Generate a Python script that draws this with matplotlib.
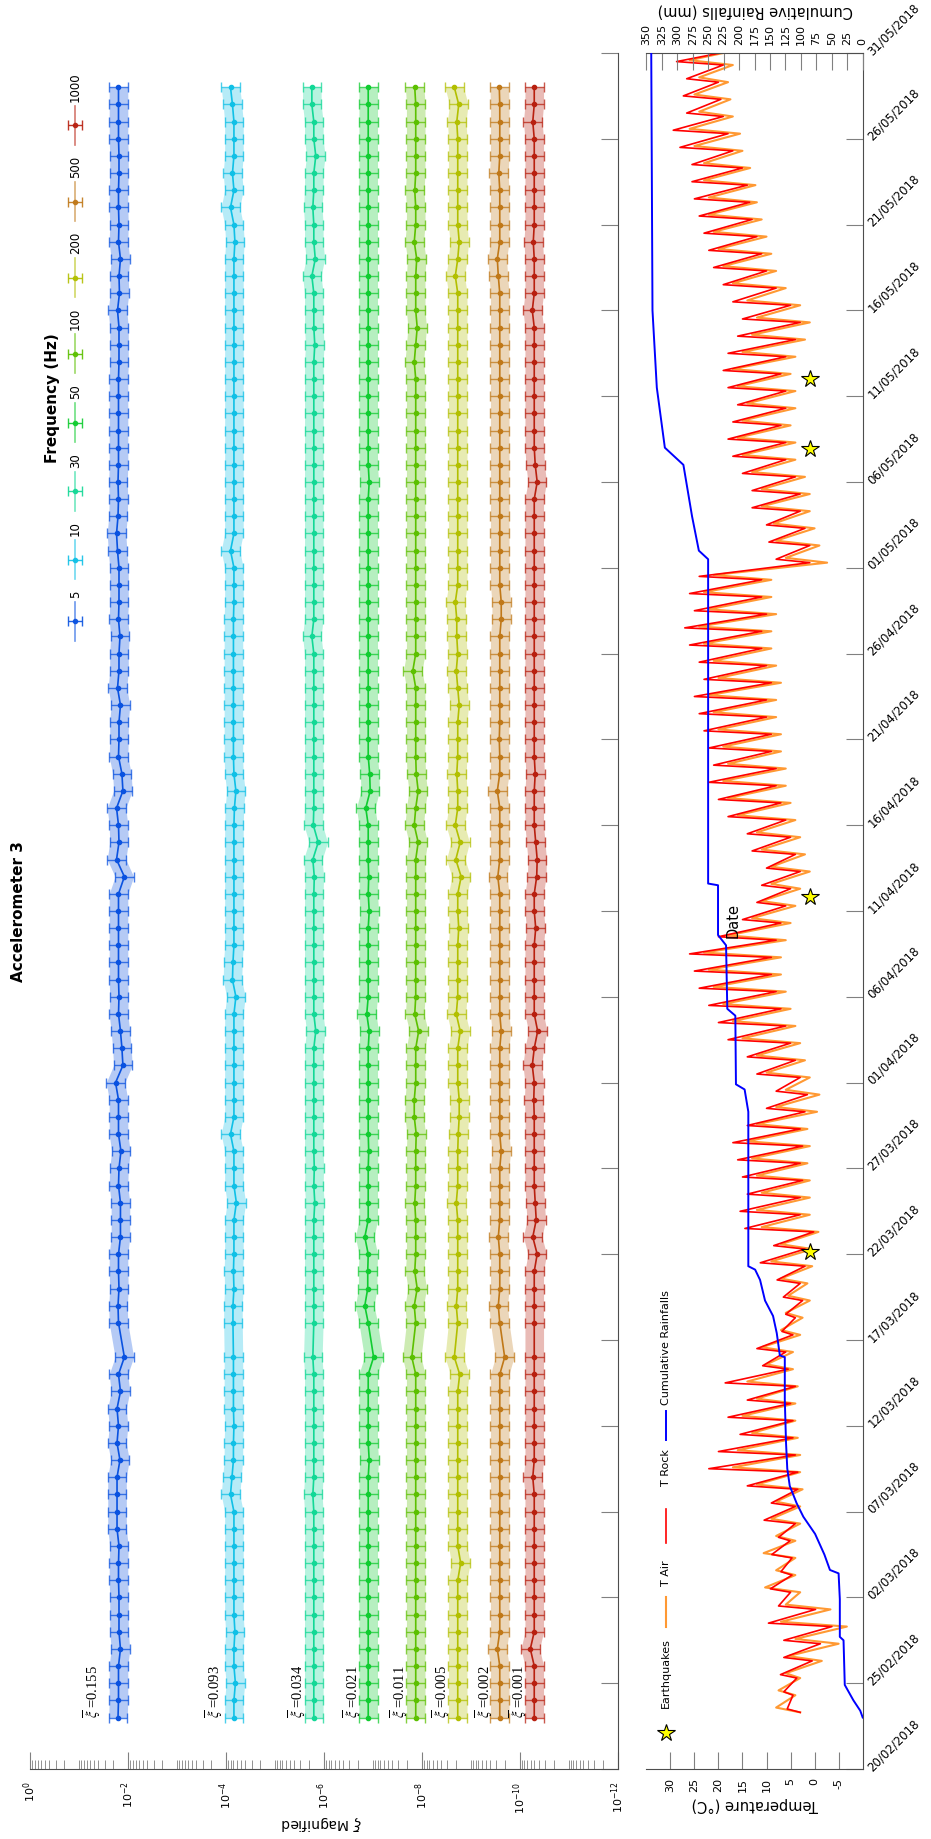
import numpy as np
import pandas as pd
import matplotlib
matplotlib.use('Agg')
import matplotlib.pyplot as plt
import matplotlib.dates as mdates
from matplotlib.ticker import FixedLocator, NullFormatter

plt.rcParams['font.family'] = ['DejaVu Sans']
plt.rcParams['mathtext.fontset'] = 'dejavusans'

W, H = 931, 1839
start = pd.Timestamp('2018-02-20')

def day2num(d):
    return mdates.date2num(start + pd.to_timedelta(np.asarray(d, dtype=float), unit='D'))

# ---------------- accelerometer data ----------------
freqs = ['5', '10', '30', '50', '100', '200', '500', '1000']
xi_mean = ['0.155', '0.093', '0.034', '0.021', '0.011', '0.005', '0.002', '0.001']
colors = ['#0a52e0', '#10c0e6', '#12d896', '#10cc30', '#5cc000', '#b2bf00', '#c07818', '#b82010']
# measurement days (days after 20/02/2018), 17/03 missing
acc_days = list(range(3, 25)) + list(range(26, 99))
# log10 of magnified xi: base level for each frequency
base_log = [-1.807, -4.164, -5.795, -6.906, -7.876, -8.734, -9.592, -10.296]
# daily deviations from the base level (hundredths of a decade, positive = smaller)
dev_5 = [-1, 0, 0, 0, 4, 1, 1, 1, 0, 0,
         1, -3, -3, -3, -3, 3, -3, 0, -3, 4,
         0, 12,
         0, -1, 1, 0, 0, 4, 4, 4, 0, 1,
         5, 0, 0, 0, -6, 9, 7, 4, 0, 1,
         0, 0, 0, 0, 0, 0, 12, -4, 1, 0,
         -4, 9, 7, 0, 1, 1, 4, -2, 1, 1,
         3, 0, 1, 1, 1, -2, -4, -1, 0, -1,
         0, 0, 0, 0, 0, 0, 1, 1, 1, -2,
         2, 1, 4, 0, 1, 0, 0, 1, 1, 0,
         0, 0, 0]
dev_10 = [0, 0, 3, 0, 0, 2, 0, 0, 0, 0,
          0, 0, 0, -7, -4, -1, -1, 0, -1, -1,
          -1, -1,
          -2, -2, 0, -1, 0, 0, 0, 5, 0, 0,
          0, -7, 0, 0, 0, 0, 0, 0, 0, 4,
          -3, -2, 0, 0, 0, 0, 0, 0, 0, 0,
          1, 4, 0, -1, -1, -1, -1, -1, -1, -1,
          -1, -1, 0, 0, 0, -7, 0, 0, 0, 0,
          0, 0, 0, 0, 0, 0, 0, 0, 0, 0,
          0, 0, 0, 2, 0, -7, 0, -3, 0, 0,
          0, -3, -7]
dev_30 = [0, 0, 0, 0, 0, 0, 0, 0, 0, 0,
          0, 0, 0, -2, 0, 0, 0, 0, 0, 0,
          0, -2,
          0, 0, 0, 0, 0, 0, 0, 2, 0, 1,
          0, 0, 0, 0, 0, 0, 0, 4, 0, 0,
          0, 0, 0, 0, 0, 0, 1, -2, 9, -1,
          0, 0, 0, 0, 0, 0, 0, 0, 0, 0,
          -4, 0, 0, 0, 0, 0, 0, 0, 0, 0,
          0, 0, 0, 0, 0, 0, 0, 2, 0, 0,
          0, -4, 3, 0, 0, -2, 0, 0, 4, 0,
          0, -4, -4]
dev_50 = [0, 0, 0, 0, 0, 0, 0, 0, 0, 0,
          0, 0, 0, 0, 0, 2, 0, 0, 0, 0,
          0, 11,
          0, -7, -1, -1, 0, -7, 0, 0, 0, 0,
          1, 0, 0, 0, 0, 0, 0, 2, -3, 0,
          0, 0, 0, 0, 2, 0, 1, 0, 0, 0,
          -5, 4, 3, 0, 0, 0, 0, 0, 0, 0,
          0, 0, 0, 0, 0, 0, 0, 0, 0, 2,
          0, 0, 0, 0, 0, 0, 0, 0, 0, 0,
          0, 0, 0, 0, 0, 0, 0, 0, 0, 0,
          0, 0, 0]
dev_100 = [0, 0, 0, 0, 0, 0, 0, 0, 0, 0,
           0, 0, 0, 0, 0, 0, 0, 0, 0, 0,
           0, -8,
           0, -3, 3, -2, 0, 0, 0, -2, 0, 0,
           0, 1, -3, -3, 0, 0, 0, 6, -2, 0,
           0, 0, 0, 0, 0, 0, 0, 0, 5, -3,
           0, 5, 1, 0, 0, 0, 0, 0, -6, 0,
           0, 0, 0, 0, 0, 0, 0, 0, 0, 0,
           0, 0, 0, 0, 0, 0, -3, 0, 3, 0,
           0, 0, 2, -3, 0, 0, -2, 0, 0, 0,
           0, 0, -2]
dev_200 = [0, 0, 0, 0, 0, 0, 0, 0, 0, 6,
           0, 0, 0, 0, 0, 0, 0, 0, 0, 0,
           4, -7,
           0, -3, 0, 0, 0, 0, 0, -3, 0, 0,
           0, 1, 3, 3, 0, 0, 0, 5, -3, 0,
           0, 0, 0, 2, 0, 0, 7, -4, 5, -5,
           0, 0, -2, 0, 0, 0, 3, 0, -3, 0,
           -2, -2, -5, 0, 0, 0, 0, 0, 0, 0,
           0, 0, 0, 0, 0, 0, 0, 0, 0, 0,
           0, -5, 0, 3, 0, 0, 0, 0, 0, 0,
           -2, 2, -7]
dev_500 = [0, 0, 0, 0, -5, 0, 0, 0, 0, 0,
           0, 0, 0, 0, 0, 0, 0, 0, 0, 0,
           0, 10,
           0, -3, 0, 0, 0, -3, 0, 0, 0, 0,
           3, 0, 0, 0, 0, 0, 0, 3, 0, 0,
           0, 0, 0, 0, 0, 0, -4, 0, 0, 0,
           0, -5, 0, 0, -1, 0, 0, 0, 0, 0,
           0, 3, 3, 0, 0, 0, 0, 0, 0, 0,
           0, 0, 0, 0, 0, 0, 0, 0, 0, 0,
           0, -3, -5, 0, 0, 0, 0, -2, 0, 0,
           0, 0, -1]
dev_1000 = [0, 0, 0, 0, -8, 0, 0, 0, 0, 0,
            0, 0, 0, 0, -3, 0, 0, 0, 0, 0,
            0, 0,
            0, 0, 0, 0, 6, -3, 4, 2, 0, 0,
            0, 0, 0, -1, 0, -4, 0, 7, 0, 0,
            0, 0, 0, 3, 0, 0, 5, 6, 3, 0,
            0, 0, 2, 0, 0, 0, 0, 0, 0, 0,
            0, 0, 0, 0, 0, 0, 0, 0, 0, 6,
            2, 0, 0, 0, 0, 0, 0, 0, 0, -4,
            0, 0, 0, -2, 0, 0, 0, 0, 0, 0,
            -3, 0, 0]
devs = [dev_5, dev_10, dev_30, dev_50, dev_100, dev_200, dev_500, dev_1000]
err_dec = 0.19  # error bar half width in decades
label_log = [-1.276, -3.778, -5.473, -6.596, -7.556, -8.413, -9.291, -9.975]

# ---------------- temperature / rain data ----------------
temp_days = list(range(3, 100))
rock_min = [3.0, 4.5, 3.7, 0.5, -1.2, -3.6, -0.2, 5.0, 4.7, 4.7,
            5.1, 4.0, 4.0, 3.5, 3.5, 4.0, 4.5, 4.5, 5.0, 4.0,
            5.5, 6.0, 4.5, 4.0, 2.5, 3.0, 2.0, 2.0, 0.2, 3.0,
            3.0, 2.5, 3.0, 2.5, 3.0, 2.0, 1.5, 3.0, 4.0, 5.0,
            6.0, 7.0, 8.0, 9.0, 9.0, 8.0, 7.0, 6.0, 5.0, 3.0,
            4.0, 5.0, 6.0, 7.0, 8.0, 8.0, 9.0, 9.0, 10.0, 10.0,
            9.0, 10.0, 11.0, 11.0, 10.0, 11.0, 11.0, 1.0, 1.0, 2.0,
            3.0, 3.0, 4.0, 6.0, 6.0, 7.0, 6.0, 6.0, 7.0, 6.0,
            4.0, 3.0, 5.0, 8.0, 10.0, 11.0, 12.0, 13.0, 13.5, 14.0,
            15.0, 17.0, 18.0, 19.0, 19.5, 20.0, 19.0]
rock_max = [5.7, 6.4, 7.1, 6.4, 6.4, 9.6, 7.5, 9.2, 7.0, 8.9,
            7.5, 10.5, 9.0, 14.0, 22.0, 20.0, 15.5, 18.0, 14.0, 18.6,
            10.8, 12.0, 6.8, 6.0, 6.5, 7.8, 11.3, 8.5, 14.5, 15.5,
            14.0, 15.0, 16.0, 17.0, 14.0, 10.0, 8.0, 12.0, 14.0, 18.0,
            20.0, 22.0, 24.0, 25.0, 26.0, 20.0, 15.0, 12.0, 11.0, 10.0,
            13.0, 14.0, 18.0, 20.0, 22.0, 21.0, 22.0, 23.0, 24.0, 25.0,
            23.0, 24.0, 26.0, 27.0, 25.0, 26.0, 24.0, 8.0, 9.5, 10.0,
            13.0, 13.0, 15.0, 17.0, 18.0, 17.0, 16.0, 18.0, 19.0, 18.0,
            16.0, 15.0, 17.0, 19.0, 21.0, 22.0, 23.0, 24.0, 25.0, 25.5,
            25.5, 28.0, 29.4, 26.6, 27.3, 26.6, 28.7]
air_min = [3.0, 4.0, 3.0, -1.5, -5.0, -6.7, -3.3, 3.0, 4.0, 4.0,
           4.0, 3.0, 3.0, 2.5, 3.0, 3.0, 3.5, 4.0, 4.0, 3.5,
           4.5, 4.5, 3.0, 2.5, 1.0, 1.5, 0.5, 0.5, -0.8, 1.0,
           1.0, 1.0, 1.5, 1.0, 1.5, -0.5, -1.0, 1.0, 2.0, 3.0,
           4.0, 5.0, 6.0, 7.0, 7.0, 6.0, 5.0, 4.0, 3.0, 1.0,
           2.0, 3.0, 4.0, 5.0, 6.0, 6.0, 7.0, 7.0, 8.0, 8.0,
           7.0, 8.0, 9.0, 9.0, 8.0, 9.0, 9.0, -2.6, -1.0, 0.0,
           1.0, 1.0, 2.0, 4.0, 4.0, 5.0, 4.0, 4.0, 5.0, 4.0,
           2.0, 1.0, 3.0, 6.0, 8.0, 9.0, 10.0, 11.0, 12.0, 12.3,
           13.4, 15.0, 15.5, 17.0, 17.5, 18.0, 17.0]
air_max = [8.0, 7.5, 6.0, 5.5, 4.0, 7.0, 6.0, 10.3, 8.0, 10.6,
           8.0, 9.0, 8.0, 12.0, 17.0, 16.0, 13.0, 15.0, 12.0, 14.0,
           10.0, 11.0, 7.0, 6.0, 5.5, 7.0, 9.0, 7.0, 11.0, 12.0,
           11.0, 12.0, 13.0, 14.0, 12.0, 8.0, 6.0, 10.0, 12.0, 15.0,
           17.0, 19.0, 21.0, 22.0, 23.0, 18.0, 13.0, 11.0, 9.0, 9.0,
           11.0, 12.0, 16.0, 18.0, 19.0, 18.0, 19.0, 20.0, 21.0, 22.0,
           20.0, 21.0, 23.0, 24.0, 22.0, 23.0, 21.0, 6.0, 8.0, 8.5,
           11.0, 11.0, 13.0, 15.0, 16.0, 15.0, 14.0, 16.0, 17.0, 15.0,
           13.0, 12.0, 14.0, 17.0, 19.0, 20.0, 21.0, 22.0, 22.0, 23.0,
           23.0, 25.0, 26.0, 24.0, 25.0, 24.0, 26.0]
rock_end = 19.6   # last reading, 31/05 00:00
air_end = 19.0
rain_days = [3.0, 3.4, 4.0, 4.9, 7.5, 7.7, 9.9, 11.4, 11.6, 12.5, 13.7, 14.7, 15.5,
             16.5, 17.5, 19.0, 21.5, 24.0, 24.1, 25.4, 26.4, 27.3, 28.5, 29.1, 29.3,
             38.3, 39.6, 39.9, 43.9, 44.3, 48.0, 48.6, 51.5, 51.6, 70.5, 71.0, 73.0,
             76.0, 77.0, 80.5, 85.0, 100.0]
rain_mm = [0, 4, 15, 29, 31, 37, 37, 39, 53, 62, 77, 96, 107,
           118, 122, 124, 126, 126, 134, 139, 145, 158, 166, 174, 185,
           185, 191, 205, 206, 219, 221, 234, 234, 250, 250, 265, 276,
           290, 320, 333, 340, 342]
quake_days = [30.1, 50.8, 76.9, 81.0]
quake_temp = [1, 1, 1, 1]

# ---------------- figure ----------------
fig = plt.figure(figsize=(W / 100, H / 100), dpi=100)
fig.patch.set_facecolor('white')

def rect(x0, y0, x1, y1):
    return [x0 / W, 1 - y1 / H, (x1 - x0) / W, (y1 - y0) / H]

ax1 = fig.add_axes(rect(30, 53, 617.7, 1769))
ax2 = fig.add_axes(rect(646.3, 53, 862.7, 1769))

date_ticks = day2num(np.arange(0, 101, 5))
dlim = (day2num(0), day2num(100))
spine_c = '0.3'
tick_c = '0.5'
tl = 12.2  # tick length in points

# accelerometer panel
acc_dates = day2num(acc_days)
for i in range(len(freqs)):
    lg = base_log[i] - np.array(devs[i]) / 100.0
    v = 10 ** lg
    lo = 10 ** (lg - err_dec)
    hi = 10 ** (lg + err_dec)
    ax1.fill_betweenx(acc_dates, lo, hi, color=colors[i], alpha=0.3, lw=0)
    eb = ax1.errorbar(v, acc_dates, xerr=[v - lo, hi - v], color=colors[i],
                      marker='o', ms=3, lw=1.2, elinewidth=1, capsize=3.5, capthick=1)
    for c in eb[1]:
        c.set_alpha(0.75)
    for c in eb[2]:
        c.set_alpha(0.75)
    ax1.text(10 ** label_log[i], acc_dates[0], r'$\overline{\xi}$ =' + xi_mean[i],
             rotation=90, ha='center', va='bottom', fontsize=10.5,
             fontfamily='Liberation Serif', math_fontfamily='stix')

ax1.set_xscale('log')
ax1.set_xlim(1, 1e-12)
ax1.set_ylim(*dlim)
majors = [10.0 ** (-k) for k in range(0, 13, 2)]
ax1.xaxis.set_major_locator(FixedLocator(majors))
ax1.set_xticklabels([r'$10^{%d}$' % (-k) for k in range(0, 13, 2)], rotation=90)
minors = [m * 10.0 ** e for e in range(-12, 0) for m in range(1, 10)
          if not (m == 1 and e % 2 == 0)]
ax1.xaxis.set_minor_locator(FixedLocator(minors))
ax1.xaxis.set_minor_formatter(NullFormatter())
ax1.tick_params(axis='x', which='major', direction='in', length=tl, width=0.8,
                color=tick_c, labelsize=8, pad=9)
ax1.tick_params(axis='x', which='minor', direction='in', length=6.5, width=0.6,
                color=tick_c)
ax1.yaxis.tick_right()
ax1.set_yticks(date_ticks)
ax1.tick_params(axis='y', direction='in', length=tl, width=0.8, color=tick_c,
                labelright=False, labelleft=False)
for s in ['left', 'top']:
    ax1.spines[s].set_visible(False)
for s in ['right', 'bottom']:
    ax1.spines[s].set_color(spine_c)

# temperature panel: morning minimum, midday maximum
rock_t, rock_v, air_t, air_v = [], [], [], []
for k, d in enumerate(temp_days):
    rock_t += [d + 0.3, d + 0.5]
    rock_v += [rock_min[k], rock_max[k]]
    air_t += [d + 0.3, d + 0.58]
    air_v += [air_min[k], air_max[k]]
rock_t.append(100)
rock_v.append(rock_end)
air_t.append(100)
air_v.append(air_end)

ax2.plot(air_v, day2num(air_t), color='#ff9933', lw=1.5, zorder=2)
ax2.plot(rock_v, day2num(rock_t), color='#ff0000', lw=1.2, zorder=3)
ax2.plot(quake_temp, day2num(quake_days), ls='none', marker='*', ms=13,
         mfc='#ffff00', mec='black', mew=0.8, zorder=5)
ax2.set_xlim(35, -10)
ax2.set_ylim(*dlim)
ax2.set_xticks(range(-5, 31, 5))
ax2.set_xticklabels([str(t) for t in range(-5, 31, 5)], rotation=90)
ax2.tick_params(axis='x', direction='in', length=tl, width=0.8, color=tick_c,
                labelsize=8, pad=6.5)
ax2.yaxis.tick_right()
ax2.set_yticks(date_ticks)
ax2.yaxis.set_major_formatter(mdates.DateFormatter('%d/%m/%Y'))
ax2.tick_params(axis='y', direction='in', length=tl, width=0.8, color=tick_c,
                labelsize=8.5, pad=5)
plt.setp(ax2.get_yticklabels(), rotation=45, rotation_mode='anchor', ha='left', va='center')
ax2.spines['left'].set_visible(False)
ax2.spines['top'].set_visible(False)
for s in ['right', 'bottom']:
    ax2.spines[s].set_color(spine_c)

ax3 = ax2.twiny()
ax3.plot(rain_mm, day2num(rain_days), color='#0000ff', lw=1.4, zorder=4)
ax3.set_xlim(350, 0)
ax3.set_ylim(*dlim)
ax3.set_xticks(range(0, 351, 25))
ax3.set_xticklabels([str(r) for r in range(0, 351, 25)], rotation=90)
ax3.tick_params(axis='x', direction='in', length=tl, width=0.8, color=tick_c,
                labelsize=8, pad=5.8)
for s in ['left', 'bottom', 'right']:
    ax3.spines[s].set_visible(False)
ax3.spines['top'].set_color(spine_c)

# overlay in pixel coordinates for rotated titles and legends
ov = fig.add_axes([0, 0, 1, 1], zorder=10)
ov.set_xlim(0, W)
ov.set_ylim(H, 0)
ov.axis('off')
ov.patch.set_alpha(0)

ov.text(19, 912, 'Accelerometer 3', rotation=90, ha='center', va='center',
        fontsize=11, fontweight='bold')
ov.text(322, 1823, r'$\xi$ Magnified', rotation=180, ha='center', va='center', fontsize=10)
ov.text(755, 1805, 'Temperature (°C)', rotation=180, ha='center', va='center', fontsize=10.5)
ov.text(755, 11, 'Cumulative Rainfalls (mm)', rotation=180, ha='center', va='center',
        fontsize=10.5)
ov.text(733, 920, 'Date', rotation=90, ha='center', va='center', fontsize=10.5)

# frequency legend
ov.text(53, 398, 'Frequency (Hz)', rotation=90, ha='center', va='center',
        fontsize=11, fontweight='bold')
leg_y = [621, 559.8, 491.4, 422.9, 353.7, 277.5, 201.7, 125.1]
leg_x = 75
for i in range(len(freqs)):
    yy = leg_y[i]
    ov.plot([leg_x, leg_x], [yy - 19.5, yy + 19.5], color=colors[i], lw=1.2, alpha=0.6)
    ov.errorbar([leg_x], [yy], xerr=[[7]], color=colors[i], marker='o', ms=3,
                elinewidth=1, capsize=3.5, capthick=1, alpha=0.9)
    ov.text(leg_x + 0.5, yy - 23.5, freqs[i], rotation=90, ha='center', va='bottom',
            fontsize=8.5)

# temperature legend
ov.plot([666], [1733], ls='none', marker='*', ms=13, mfc='#ffff00', mec='black', mew=0.8)
ov.text(666, 1708, 'Earthquakes', rotation=90, ha='center', va='bottom', fontsize=8)
ov.plot([666, 666], [1597, 1627], color='#ff9933', lw=1.5)
ov.text(666, 1586, 'T Air', rotation=90, ha='center', va='bottom', fontsize=8)
ov.plot([666, 666], [1509, 1543], color='#ff0000', lw=1.2)
ov.text(666, 1486, 'T Rock', rotation=90, ha='center', va='bottom', fontsize=8)
ov.plot([666, 666], [1411, 1440], color='#0000ff', lw=1.4)
ov.text(666, 1405, 'Cumulative Rainfalls', rotation=90, ha='center', va='bottom', fontsize=8)

fig.savefig('out.png', dpi=100, facecolor='white')
